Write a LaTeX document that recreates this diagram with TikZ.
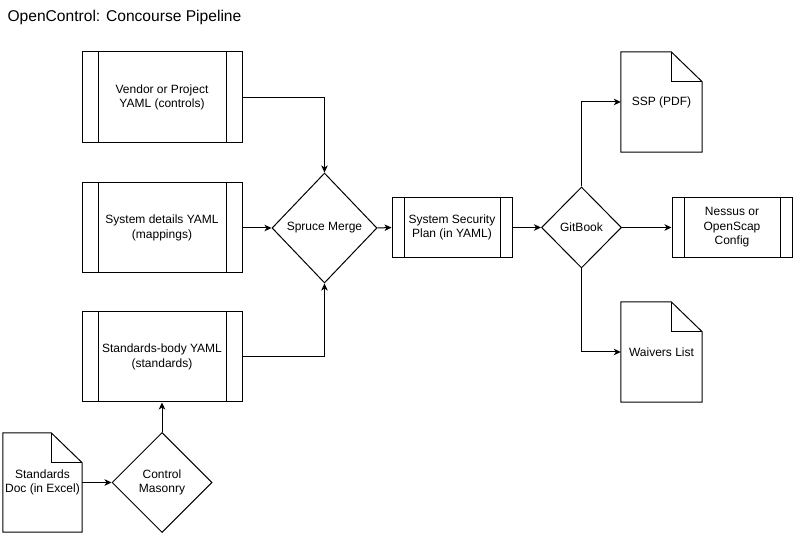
\documentclass[tikz,border=0pt]{standalone}
\usepackage{fontspec}
\setmainfont{Liberation Sans}
\usetikzlibrary{shapes.geometric,arrows.meta,calc}
\newcommand\drawdoc[1]{%
  \draw[line width=1pt] (#1.north west) -- ([xshift=-31pt]#1.north east) -- ([yshift=-30pt]#1.north east) -- (#1.south east) -- (#1.south west) -- cycle;
  \draw[line width=1pt] ([xshift=-31pt]#1.north east) |- ([yshift=-30pt]#1.north east);}
\begin{document}
\begin{tikzpicture}[x=1pt,y=-1pt,
  every node/.style={font=\fontsize{12}{14.4}\selectfont, align=center},
  arr/.style={-{Stealth[length=7pt,width=6.5pt,inset=2pt]}, line width=1pt},
  procbox/.style={draw, line width=1pt, rectangle, inner sep=0pt,
    path picture={
      \draw[line width=1pt]
        ($(path picture bounding box.north west)!0.1!(path picture bounding box.north east)$) --
        ($(path picture bounding box.south west)!0.1!(path picture bounding box.south east)$);
      \draw[line width=1pt]
        ($(path picture bounding box.north east)!0.1!(path picture bounding box.north west)$) --
        ($(path picture bounding box.south east)!0.1!(path picture bounding box.south west)$);
    }},
  docbox/.style={rectangle, inner sep=0pt},
  decision/.style={draw, diamond, line width=1pt, inner sep=0pt}
]
\useasboundingbox (0,0) rectangle (793,534);

\node[anchor=base west, font=\fontsize{15.6}{18}\selectfont] (title) at (4,22) {OpenControl: Concourse Pipeline};

\node[procbox, minimum width=160pt, minimum height=91pt] (vendor) at (162,97.5) {Vendor or Project\\YAML (controls)};
\node[procbox, minimum width=160pt, minimum height=90pt] (sysdet) at (162,228) {System details YAML\\(mappings)};
\node[procbox, minimum width=160pt, minimum height=90pt] (std) at (162,357) {Standards-body YAML\\(standards)};

\node[decision, minimum width=105pt, minimum height=110pt] (spruce) at (324.5,228) {Spruce Merge};
\node[procbox, minimum width=120pt, minimum height=60pt] (ssp) at (452,227.5) {System Security\\Plan (in YAML)};
\node[decision, minimum width=80pt, minimum height=81pt] (git) at (581.5,227.5) {GitBook};
\node[procbox, minimum width=120pt, minimum height=60pt] (nessus) at (732,227.5) {Nessus or\\OpenScap\\Config};

\node[docbox, minimum width=81pt, minimum height=100pt] (pdf) at (661.5,102) {SSP (PDF)};
\node[docbox, minimum width=81pt, minimum height=100pt] (waiv) at (661.5,352) {Waivers List};
\node[docbox, minimum width=79pt, minimum height=99pt] (stddoc) at (42.5,482.5) {Standards\\Doc (in Excel)};
\drawdoc{pdf}
\drawdoc{waiv}
\drawdoc{stddoc}

\node[decision, minimum width=100pt, minimum height=100pt] (mason) at (162,482.5) {Control\\Masonry};

\draw[arr] (vendor.east) -| (spruce.north);
\draw[arr] (sysdet.east) -- (spruce.west);
\draw[arr] (std.east) -| (spruce.south);
\draw[arr] (spruce.east) -- (ssp.west);
\draw[arr] (ssp.east) -- (git.west);
\draw[arr] (git.north) |- (pdf.west);
\draw[arr] (git.east) -- (nessus.west);
\draw[arr] (git.south) |- (waiv.west);
\draw[arr] (stddoc.east) -- (mason.west);
\draw[arr] (mason.north) -- (std.south);
\end{tikzpicture}
\end{document}
